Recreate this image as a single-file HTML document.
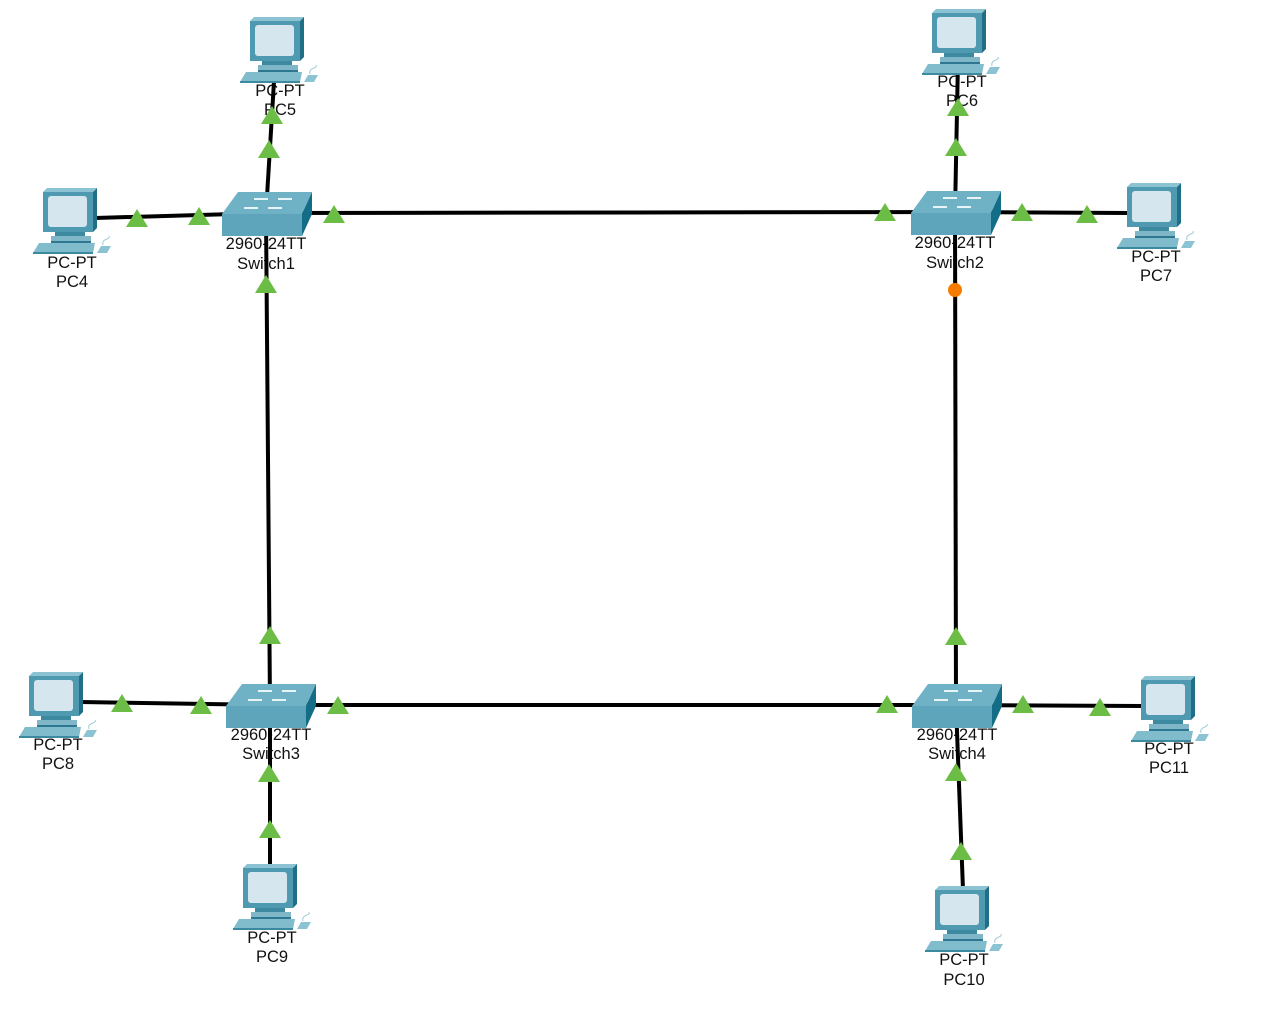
<!DOCTYPE html>
<html><head><meta charset="utf-8"><style>
html,body{margin:0;padding:0;background:#fff;}
svg{display:block;}
text{font-family:"Liberation Sans",sans-serif;font-size:16.5px;fill:#111;text-anchor:middle;}
</style></head><body>
<svg width="1268" height="1016" viewBox="0 0 1268 1016" xmlns="http://www.w3.org/2000/svg">
<defs>
<g id="pc">
  <polygon points="10,4 14,0 64,0 60,4" fill="#8cc3d3"/>
  <polygon points="60,4 64,0 64,40 60,44" fill="#1f6f86"/>
  <rect x="10" y="4" width="50" height="40" fill="#4f9ab0"/>
  <rect x="15" y="8" width="39" height="31" rx="3" fill="#d6e6ee"/>
  <rect x="22" y="44" width="30" height="4" fill="#3d8aa0"/>
  <rect x="18" y="48" width="40" height="5" fill="#7fb7c9"/>
  <rect x="18" y="53" width="40" height="2" fill="#2d7890"/>
  <polygon points="6,55 62,55 60,65 0,65" fill="#80bccc"/>
  <rect x="0" y="64" width="60" height="2" fill="#3c8aa0"/>
  <polygon points="68,58 78,58 74,65 64,65" fill="#8cc3d3"/>
  <path d="M70,57 C68,50 78,52 76,48" stroke="#9cc9d6" fill="none" stroke-width="1"/>
</g>
<g id="sw">
  <polygon points="16,0 90,0 80,22 0,22" fill="#6fb2c5"/>
  <polygon points="80,22 90,0 90,22 80,44" fill="#136d86"/>
  <rect x="0" y="22" width="80" height="22" fill="#5ea4bb"/>
  <g stroke="#e8f4f8" stroke-width="2" fill="none">
    <line x1="32" y1="7" x2="46" y2="7"/><line x1="56" y1="7" x2="70" y2="7"/>
    <line x1="22" y1="16" x2="36" y2="16"/><line x1="46" y1="16" x2="60" y2="16"/>
  </g>
</g>
<polygon id="tri" points="0,-10 11,8 -11,8" fill="#6bbd45"/>
</defs>

<text x="266" y="249">2960-24TT</text><text x="266" y="269">Switch1</text>
<text x="955" y="248">2960-24TT</text><text x="955" y="268">Switch2</text>
<text x="271" y="740">2960-24TT</text><text x="271" y="759">Switch3</text>
<text x="957" y="740">2960-24TT</text><text x="957" y="759">Switch4</text>
<text x="280" y="96">PC-PT</text><text x="280" y="115">PC5</text>
<text x="962" y="87">PC-PT</text><text x="962" y="106">PC6</text>
<text x="72" y="268">PC-PT</text><text x="72" y="287">PC4</text>
<text x="1156" y="262">PC-PT</text><text x="1156" y="281">PC7</text>
<text x="58" y="750">PC-PT</text><text x="58" y="769">PC8</text>
<text x="272" y="943">PC-PT</text><text x="272" y="962">PC9</text>
<text x="964" y="965">PC-PT</text><text x="964" y="985">PC10</text>
<text x="1169" y="754">PC-PT</text><text x="1169" y="773">PC11</text>

<g stroke="#000" stroke-width="4" fill="none">
  <line x1="266" y1="213" x2="955" y2="212"/>
  <line x1="266" y1="213" x2="270" y2="705"/>
  <line x1="955" y1="212" x2="956" y2="705"/>
  <line x1="270" y1="705" x2="956" y2="705"/>
  <line x1="95" y1="218" x2="266" y2="213"/>
  <line x1="266" y1="213" x2="275" y2="65"/>
  <line x1="955" y1="213" x2="958" y2="60"/>
  <line x1="955" y1="212" x2="1128" y2="213"/>
  <line x1="80" y1="702" x2="270" y2="705"/>
  <line x1="270" y1="705" x2="270" y2="870"/>
  <line x1="956" y1="705" x2="963" y2="890"/>
  <line x1="956" y1="705" x2="1142" y2="706"/>
</g>

<use href="#sw" x="222" y="192"/>
<use href="#sw" x="911" y="191"/>
<use href="#sw" x="226" y="684"/>
<use href="#sw" x="912" y="684"/>

<use href="#pc" x="240" y="17"/>
<use href="#pc" x="922" y="9"/>
<use href="#pc" x="33" y="188"/>
<use href="#pc" x="1117" y="183"/>
<use href="#pc" x="19" y="672"/>
<use href="#pc" x="233" y="864"/>
<use href="#pc" x="925" y="886"/>
<use href="#pc" x="1131" y="676"/>

<use href="#tri" x="137" y="219"/><use href="#tri" x="199" y="217"/><use href="#tri" x="334" y="215"/>
<use href="#tri" x="269" y="150"/><use href="#tri" x="272" y="116"/>
<use href="#tri" x="885" y="213"/><use href="#tri" x="1022" y="213"/><use href="#tri" x="1087" y="215"/>
<use href="#tri" x="956" y="148"/><use href="#tri" x="958" y="108"/>
<use href="#tri" x="266" y="285"/><use href="#tri" x="270" y="636"/>
<use href="#tri" x="122" y="704"/><use href="#tri" x="201" y="706"/><use href="#tri" x="338" y="706"/>
<use href="#tri" x="269" y="774"/><use href="#tri" x="270" y="830"/>
<use href="#tri" x="887" y="705"/><use href="#tri" x="1023" y="705"/><use href="#tri" x="1100" y="708"/>
<use href="#tri" x="956" y="637"/><use href="#tri" x="956" y="773"/><use href="#tri" x="961" y="852"/>
<circle cx="955" cy="290" r="7" fill="#f57c00"/>
</svg>
</body></html>
